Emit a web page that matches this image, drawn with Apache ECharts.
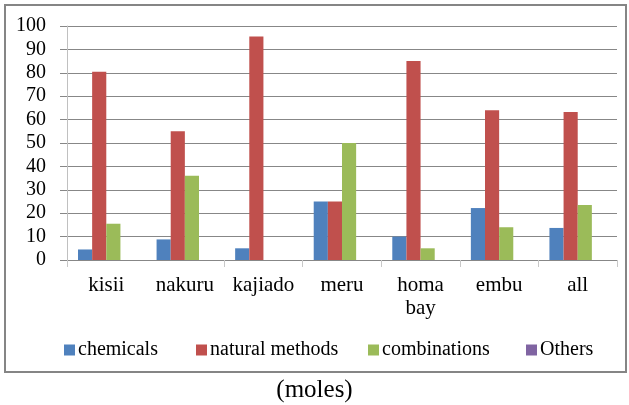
<!DOCTYPE html>
<html>
<head>
<meta charset="utf-8">
<style>
  html, body { margin: 0; padding: 0; background: #ffffff; }
  #chart { width: 629px; height: 405px; }
</style>
<script src="https://cdn.jsdelivr.net/npm/echarts@6/dist/echarts.min.js"></script>
</head>
<body>
<div id="chart"></div>
<script>
// Survey regions and the share of respondents using each mole control method
const regions = ['kisii', 'nakuru', 'kajiado', 'meru', 'homa bay', 'embu', 'all'];
const chemicals = [4.5, 8.8, 5, 25, 10, 22.2, 13.7];
const naturalMethods = [80.5, 55, 95.5, 25, 85, 64, 63.2];
const combinations = [15.5, 36, 0, 50, 5, 14, 23.5];
const others = [0, 0, 0, 0, 0, 0, 0];
const yTicks = { min: 0, max: 100, step: 10 };

const seriesNames = ['chemicals', 'natural methods', 'combinations', 'Others'];
const seriesValues = [chemicals, naturalMethods, combinations, others];
const seriesColors = ['#4F81BD', '#C0504D', '#9BBB59', '#8064A2'];
const legendLeft = [59, 191, 363, 521];

const serif = 'Liberation Serif';

const chart = echarts.init(document.getElementById('chart'), null, { renderer: 'canvas' });

chart.setOption({
  animation: false,
  backgroundColor: '#ffffff',
  textStyle: { fontFamily: serif },
  grid: { left: 67, right: 12, top: 26, bottom: 145, containLabel: false },
  legend: seriesNames.map((name, i) => ({
    data: [name],
    left: legendLeft[i],
    top: 335,
    itemWidth: 11,
    itemHeight: 11,
    itemGap: 0,
    icon: 'rect',
    selectedMode: false,
    textStyle: { fontFamily: serif, fontSize: 20, color: '#000000', padding: [0, 0, 0, -2] }
  })),
  xAxis: {
    type: 'category',
    data: regions,
    axisLine: { show: false },
    axisTick: {
      show: true,
      length: 7,
      // the boundary between the first two groups carries no tick mark
      interval: (index) => index !== 1,
      lineStyle: { color: '#c8c8c8', width: 1 }
    },
    axisLabel: {
      interval: 0,
      margin: 14,
      fontFamily: serif,
      fontSize: 21,
      color: '#000000',
      lineHeight: 23,
      formatter: v => v.replace(' ', '\n')
    },
    splitLine: { show: false }
  },
  yAxis: {
    type: 'value',
    min: yTicks.min,
    max: yTicks.max,
    interval: yTicks.step,
    axisLine: { show: true, lineStyle: { color: '#c0c0c0', width: 1 } },
    axisTick: { show: true, length: 7, lineStyle: { color: '#878787', width: 1 } },
    axisLabel: { margin: 21, fontFamily: serif, fontSize: 20, color: '#000000' },
    splitLine: { show: true, lineStyle: { color: '#878787', width: 1 } }
  },
  series: seriesNames.map((name, i) => ({
    name: name,
    type: 'bar',
    data: seriesValues[i],
    barGap: '0%',
    barCategoryGap: '28%',
    itemStyle: { color: seriesColors[i] }
  })),
  graphic: [
    {
      type: 'rect',
      shape: { x: 5, y: 5, width: 621, height: 367 },
      style: { fill: null, stroke: '#858585', lineWidth: 2 },
      z: 100
    },
    {
      type: 'text',
      left: 'center',
      top: 378,
      style: { text: '(moles)', font: '25px "Liberation Serif"', fill: '#000000' }
    }
  ]
});
</script>
</body>
</html>
